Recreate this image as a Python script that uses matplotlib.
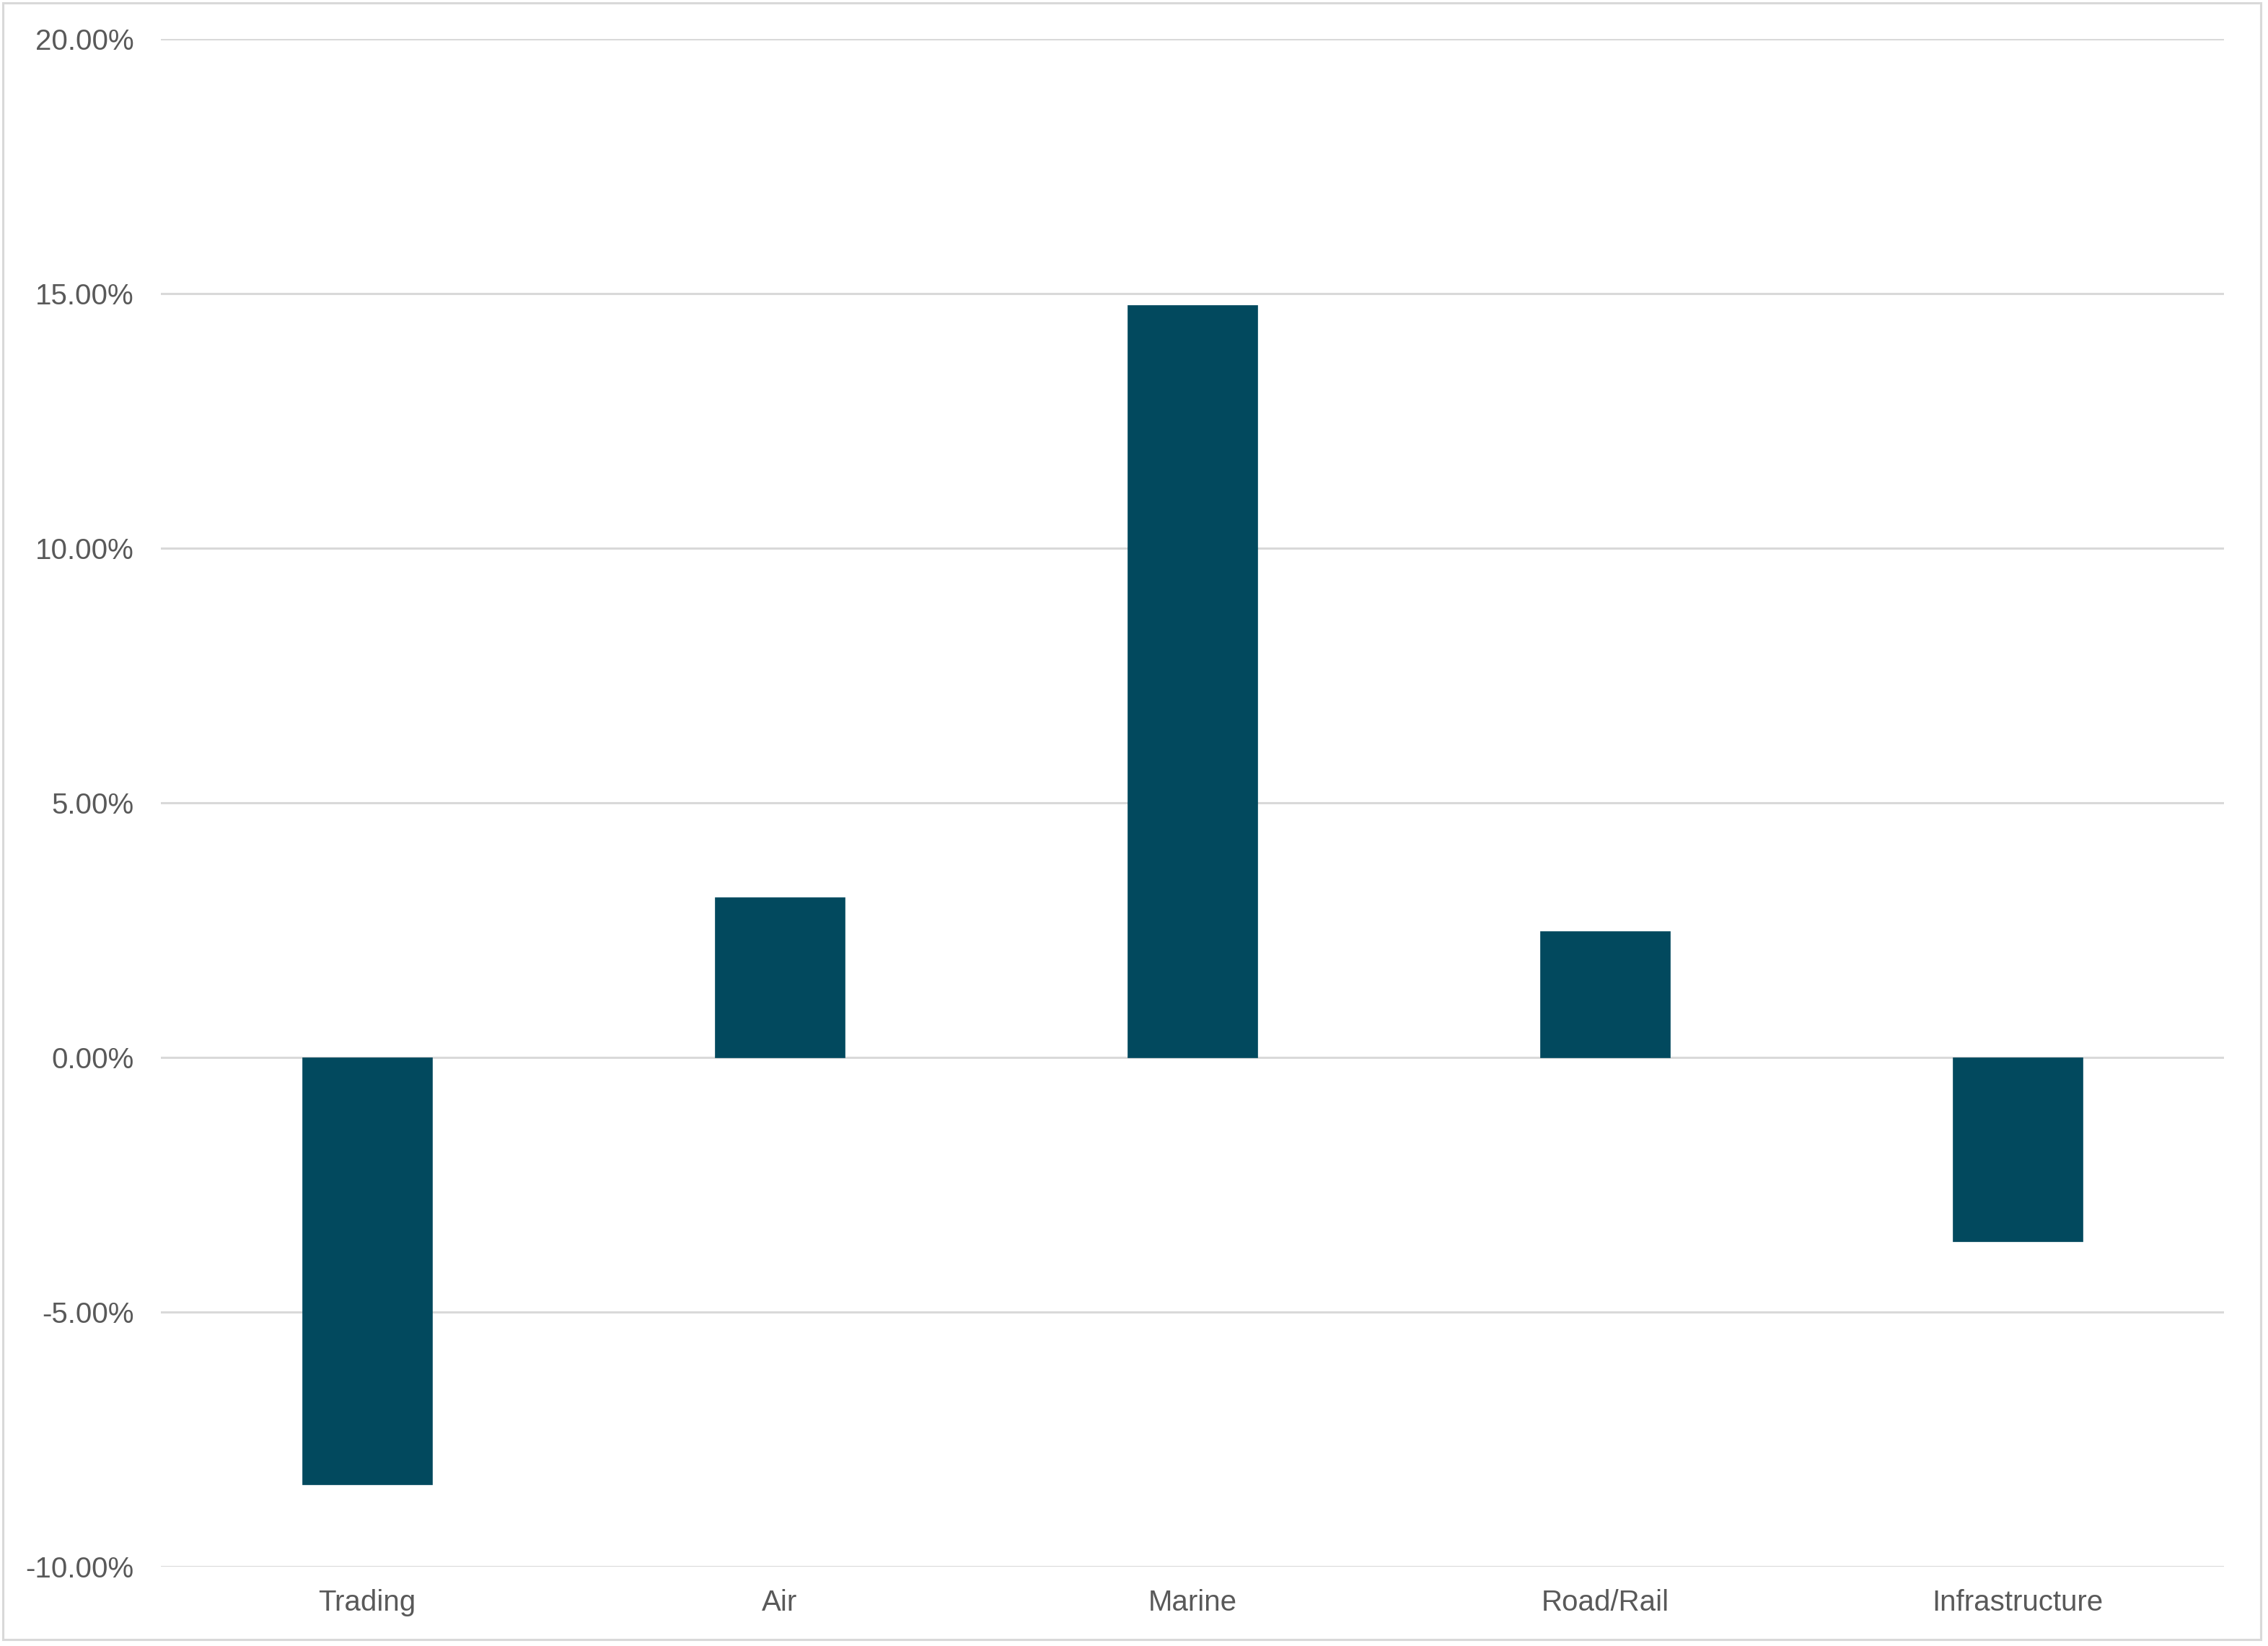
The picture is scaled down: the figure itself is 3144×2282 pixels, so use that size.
import matplotlib
matplotlib.use("Agg")
import matplotlib.pyplot as plt
from matplotlib.ticker import FuncFormatter
from matplotlib.patches import Rectangle

categories = ["Trading", "Air", "Marine", "Road/Rail", "Infrastructure"]
values = [-8.39, 3.14, 14.77, 2.48, -3.61]
y_ticks = [-10, -5, 0, 5, 10, 15, 20]

plt.rcParams['font.family'] = ['Liberation Sans', 'DejaVu Sans']

W, H, DPI = 3144, 2282, 100
fig = plt.figure(figsize=(W / DPI, H / DPI), dpi=DPI)
fig.patch.set_facecolor('white')

left, right = 223 / W, 3083 / W
bottom, top = 1 - 2172 / H, 1 - 54 / H
ax = fig.add_axes([left, bottom, right - left, top - bottom])

x = list(range(len(categories)))
ax.bar(x, values, width=0.313, color='#02495E', edgecolor='#02495E', linewidth=0.5, zorder=3)

ax.set_xlim(-0.5, len(categories) - 0.5)
ax.set_ylim(min(y_ticks), max(y_ticks))
ax.set_yticks(y_ticks)
ax.yaxis.set_major_formatter(FuncFormatter(lambda v, p: f"{v:.2f}%"))
ax.set_xticks(x)
ax.set_xticklabels(categories)

ax.grid(axis='y', color='#D9D9D9', linewidth=2.2, zorder=0)
ax.set_axisbelow(True)
for s in ax.spines.values():
    s.set_visible(False)
ax.tick_params(axis='both', length=0, labelsize=29, colors='#595959')
ax.tick_params(axis='y', pad=27)
ax.tick_params(axis='x', pad=22)

border = Rectangle((4 / W, 1 - 2273 / H), (3134 - 4) / W, (2273 - 4) / H,
                   transform=fig.transFigure, fill=False, edgecolor='#D9D9D9',
                   linewidth=2.2, zorder=10)
fig.patches.append(border)

fig.savefig("out.png", dpi=DPI, facecolor='white')
